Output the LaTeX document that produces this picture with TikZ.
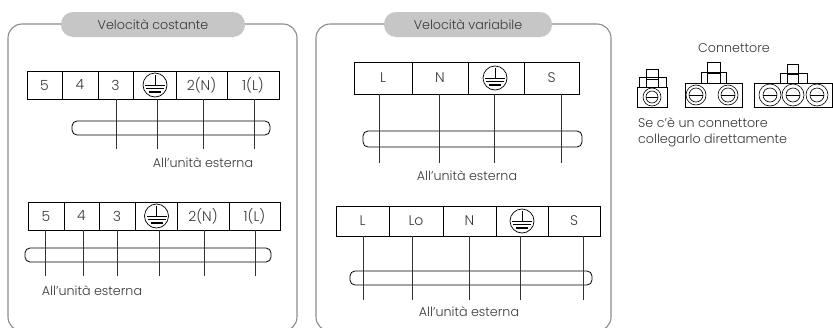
\documentclass[tikz,border=0pt]{standalone}
\usepackage{fontspec}
\setmainfont{Poppins Light}
\definecolor{txt}{HTML}{3A3A3A}
\definecolor{panelc}{HTML}{8C8C8C}
\definecolor{pillc}{HTML}{C6C6C6}
\definecolor{wirec}{HTML}{333333}
\tikzset{
  lab/.style={font=\fontsize{12.7}{14}\selectfont,text=txt,inner sep=0pt},
  panel/.style={draw=panelc,line width=1.1pt,rounded corners=14pt},
  pill/.style={fill=pillc,rounded corners=12pt},
  cellbox/.style={draw=black,line width=0.9pt,inner sep=0pt,font=\fontsize{14}{16}\selectfont,text=txt},
  wire/.style={draw=wirec,line width=0.8pt},
  sheath/.style={draw=black,line width=0.8pt,rounded corners=5pt,inner sep=0pt},
  conn/.style={draw=black,line width=0.6pt},
  earthc/.style={draw=black,line width=0.7pt,fill=white}
}
% cell name, x1, x2, y1, y2, label
\newcommand{\tcell}[6]{%
  \pgfmathsetlengthmacro{\cw}{#3-#2}\pgfmathsetlengthmacro{\ch}{#5-#4}%
  \node[cellbox,minimum width=\cw,minimum height=\ch] (#1) at ({(#2+#3)/2},{(#4+#5)/2}) {#6};}
\newcommand{\earth}[2]{%
  \draw[earthc] (#1,#2) circle[radius=12];
  \draw[line width=0.7pt] (#1,#2-10)--(#1,#2) (#1-10,#2)--(#1+10,#2) (#1-9,#2+3.5)--(#1+9,#2+3.5);
  \draw[line width=1.2pt] (#1-6,#2+7)--(#1+6,#2+7);}
\newcommand{\sheathbox}[5]{%
  \pgfmathsetlengthmacro{\cw}{#3-#2}\pgfmathsetlengthmacro{\ch}{#5-#4}%
  \node[sheath,minimum width=\cw,minimum height=\ch] (#1) at ({(#2+#3)/2},{(#4+#5)/2}) {};}
% wire: x, from cell, end name, end y
\newcommand{\wirefrom}[4]{%
  \coordinate (#3) at (#1,#4);
  \draw[wire] (#1,0 |- #2.south) -- (#3);}
\newcommand{\screw}[4]{%
  \draw[conn] (#1,#2) circle[radius=#3];
  \draw[conn] (#1,#2) circle[radius=#4];
  \draw[conn] (#1-#4,#2)--(#1+#4,#2);}
\begin{document}
\begin{tikzpicture}[x=1pt,y=-1pt]
\useasboundingbox (0,0) rectangle (833,327);
\fill[white] (0,0) rectangle (833,327);
% panels
\begin{scope}
\clip (0,0) rectangle (833,327);
\draw[panel] (8,24) rectangle (297,331);
\draw[panel] (316,24) rectangle (611,331);
\end{scope}
\fill[pill] (61,12) rectangle (245,37);
\fill[pill] (384,12) rectangle (552,37);
\node[lab] (t1) at (153,25) {Velocità costante};
\node[lab] (t2) at (468,25) {Velocità variabile};
% block A
\tcell{a5}{27}{62}{71}{99}{5}
\tcell{a4}{62}{98}{71}{99}{4}
\tcell{a3}{98}{133}{71}{99}{3}
\tcell{ae}{133}{176}{71}{99}{}
\tcell{a2}{176}{227}{71}{99}{2(N)}
\tcell{a1}{227}{279}{71}{99}{1(L)}
\earth{155}{85}
\sheathbox{as}{72}{270}{121}{135}
\wirefrom{116}{a3}{ax1}{149}
\wirefrom{157}{ae}{ax2}{149}
\wirefrom{203}{a2}{ax3}{149}
\wirefrom{254}{a1}{ax4}{149}
\node[lab] (al) at (203,163) {All’unità esterna};
% block B
\tcell{b5}{28}{64}{202}{230}{5}
\tcell{b4}{64}{99}{202}{230}{4}
\tcell{b3}{99}{135}{202}{230}{3}
\tcell{be}{135}{177}{202}{230}{}
\tcell{b2}{177}{229}{202}{230}{2(N)}
\tcell{b1}{229}{280}{202}{230}{1(L)}
\earth{156.5}{216}
\sheathbox{bs}{25}{271}{248}{262}
\wirefrom{45}{b5}{bx1}{276}
\wirefrom{83}{b4}{bx2}{276}
\wirefrom{117}{b3}{bx3}{276}
\wirefrom{159}{be}{bx4}{276}
\wirefrom{204.5}{b2}{bx5}{276}
\wirefrom{255}{b1}{bx6}{276}
\node[lab] (bl) at (92,291) {All’unità esterna};
% block C
\tcell{cL}{354}{412}{62}{94}{L}
\tcell{cN}{412}{468}{62}{94}{N}
\tcell{ce}{468}{524}{62}{94}{}
\tcell{cS}{524}{579}{62}{94}{S}
\earth{495}{78}
\sheathbox{cs}{363}{582}{131}{147}
\wirefrom{379}{cL}{cx1}{163}
\wirefrom{439}{cN}{cx2}{163}
\wirefrom{494}{ce}{cx3}{163}
\wirefrom{561}{cS}{cx4}{163}
\node[lab] (cl) at (467,176) {All’unità esterna};
% block D
\tcell{dL}{336}{389}{206}{236}{L}
\tcell{dLo}{389}{443}{206}{236}{Lo}
\tcell{dN}{443}{496}{206}{236}{N}
\tcell{de}{496}{548}{206}{236}{}
\tcell{dS}{548}{600}{206}{236}{S}
\earth{522}{221}
\sheathbox{ds}{350}{592}{271}{285}
\wirefrom{363}{dL}{dx1}{300}
\wirefrom{412}{dLo}{dx2}{300}
\wirefrom{469}{dN}{dx3}{300}
\wirefrom{520}{de}{dx4}{300}
\wirefrom{583}{dS}{dx5}{300}
\node[lab] (dl) at (469,312) {All’unità esterna};
% connectors
\node[lab] (ct) at (734,48) {Connettore};
\draw[conn] (639,87) rectangle (666,77);
\draw[conn] (646,87) rectangle (658,69);
\draw[conn] (646,79) -- (658,79);
\draw[conn] (637.5,87) rectangle (667,107);
\screw{652}{97}{9}{6}
\draw[conn] (701,83) rectangle (726,72);
\draw[conn] (707,83) rectangle (720,62);
\draw[conn] (707,73) -- (720,73);
\draw[conn] (685,83) rectangle (742,107);
\screw{696}{95}{10}{7}
\screw{728}{95}{10}{7}
\draw[conn] (780,83) rectangle (807,73);
\draw[conn] (787,83) rectangle (798,64);
\draw[conn] (787,74) -- (798,74);
\draw[conn] (754,83) rectangle (832,107);
\screw{770}{95}{11}{7}
\screw{793}{95}{11}{7}
\screw{817}{95}{11}{7}
\node[lab,anchor=west] (n1) at (638,123) {Se c’è un connettore};
\node[lab,anchor=west] (n2) at (638,140) {collegarlo direttamente};
\end{tikzpicture}
\end{document}
